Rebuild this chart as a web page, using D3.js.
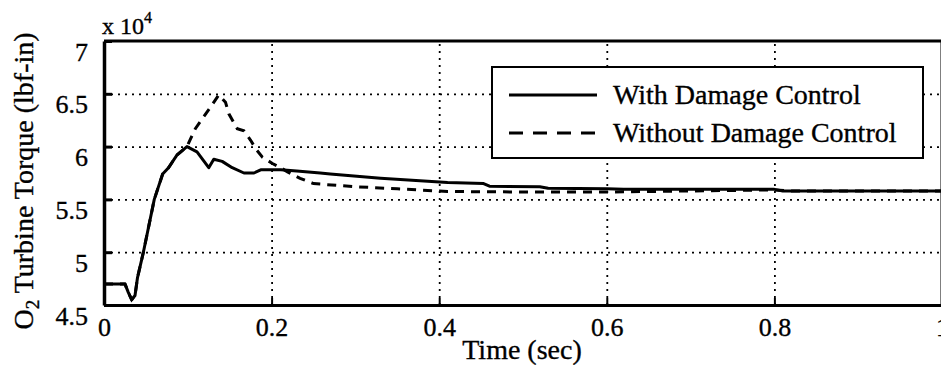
<!DOCTYPE html>
<html>
<head>
<meta charset="utf-8">
<script src="https://cdnjs.cloudflare.com/ajax/libs/d3/7.8.5/d3.min.js"></script>
<style>
    body { margin: 0; background: #fff; }
    text { font-family: "Liberation Serif", "Times New Roman", serif; fill: #000; stroke: #000; stroke-width: 0.35px; }
    .grid line { stroke: #000; stroke-width: 1.8; stroke-dasharray: 2, 5; }
    .grid path { display: none; }
</style>
</head>
<body>
<script>
// tick values and labels
var xTicks = [0, 0.2, 0.4, 0.6, 0.8, 1];
var xTickLabels = ["0", "0.2", "0.4", "0.6", "0.8", "1"];
var yTicks = [4.5, 5, 5.5, 6, 6.5, 7];
var yTickLabels = ["4.5", "5", "5.5", "6", "6.5", "7"];

var seriesNames = ["With Damage Control", "Without Damage Control"];

// with damage control (torque in units of 10^4 lbf-in)
var timeWith = [0, 0.025, 0.029, 0.033, 0.037, 0.040, 0.047, 0.060, 0.070, 0.077, 0.087, 0.099,
    0.111, 0.125, 0.131, 0.141, 0.153, 0.167, 0.179, 0.187, 0.211, 0.230, 0.258, 0.270,
    0.33, 0.41, 0.453, 0.46, 0.52, 0.53, 0.60, 0.62, 0.80, 0.81, 1.0];
var torqueWith = [4.70, 4.70, 4.62, 4.55, 4.59, 4.76, 5.00, 5.50, 5.74, 5.80, 5.92, 6.00,
    5.95, 5.80, 5.88, 5.86, 5.80, 5.75, 5.75, 5.78, 5.78, 5.77, 5.75, 5.74,
    5.70, 5.66, 5.65, 5.625, 5.62, 5.605, 5.60, 5.595, 5.595, 5.58, 5.58];

// without damage control
var timeWithout = [0, 0.025, 0.029, 0.033, 0.037, 0.040, 0.047, 0.060, 0.070, 0.077, 0.087, 0.099,
    0.109, 0.125, 0.137, 0.145, 0.149, 0.159, 0.167, 0.175, 0.181, 0.189, 0.201, 0.211,
    0.219, 0.234, 0.250, 0.266, 0.30, 0.35, 0.41, 0.50, 0.60, 0.70, 0.80, 0.82, 1.0];
var torqueWithout = [4.70, 4.70, 4.62, 4.55, 4.59, 4.76, 5.00, 5.50, 5.74, 5.80, 5.92, 6.00,
    6.17, 6.35, 6.49, 6.42, 6.31, 6.17, 6.15, 6.06, 5.98, 5.90, 5.84, 5.80,
    5.76, 5.70, 5.65, 5.64, 5.62, 5.60, 5.575, 5.57, 5.57, 5.58, 5.59, 5.58, 5.58];

// set the dimensions of the picture and the plot box
var width = 941,
    height = 370,
    plot = { left: 104, right: 942, top: 41, bottom: 305 };

// set the ranges
var x = d3.scaleLinear().domain([0, 1]).range([plot.left, plot.right]);
var y = d3.scaleLinear().domain([4.5, 7]).range([plot.bottom, plot.top]);

var svg = d3.select("body").append("svg")
    .attr("width", width)
    .attr("height", height);

svg.append("clipPath")
    .attr("id", "clip")
    .append("rect")
    .attr("x", plot.left)
    .attr("y", plot.top)
    .attr("width", plot.right - plot.left)
    .attr("height", plot.bottom - plot.top);

// dotted grid
svg.append("g")
    .attr("class", "grid")
    .attr("transform", "translate(0," + plot.bottom + ")")
    .call(d3.axisBottom(x).tickValues(xTicks.slice(1, -1)).tickSize(-(plot.bottom - plot.top)).tickFormat(""));

svg.append("g")
    .attr("class", "grid")
    .attr("transform", "translate(" + plot.left + ",0)")
    .call(d3.axisLeft(y).tickValues(yTicks.slice(1, -1)).tickSize(-(plot.right - plot.left)).tickFormat(""));

// the curves
var lineWith = d3.line()
    .x(function(d, i) { return x(timeWith[i]); })
    .y(function(d) { return y(d); });

var lineWithout = d3.line()
    .x(function(d, i) { return x(timeWithout[i]); })
    .y(function(d) { return y(d); });

svg.append("path")
    .datum(torqueWithout)
    .attr("clip-path", "url(#clip)")
    .attr("fill", "none")
    .attr("stroke", "#000")
    .attr("stroke-width", 3)
    .attr("stroke-dasharray", "9,7")
    .attr("d", lineWithout);

svg.append("path")
    .datum(torqueWith)
    .attr("clip-path", "url(#clip)")
    .attr("fill", "none")
    .attr("stroke", "#000")
    .attr("stroke-width", 3)
    .attr("stroke-linejoin", "round")
    .attr("d", lineWith);

// Add the X Axis (ticks pointing inward)
var xAxis = svg.append("g")
    .attr("transform", "translate(0," + plot.bottom + ")")
    .call(d3.axisBottom(x).tickValues(xTicks).tickSizeInner(-7).tickSizeOuter(0)
        .tickFormat(function(d, i) { return xTickLabels[i]; }));
xAxis.select(".domain").attr("stroke-width", 3);
xAxis.selectAll(".tick line").attr("stroke-width", 2);
xAxis.selectAll("text")
    .attr("y", 31)
    .attr("dy", null)
    .style("font-size", "26px");

// Add the Y Axis
var yAxis = svg.append("g")
    .attr("transform", "translate(" + plot.left + ",0)")
    .call(d3.axisLeft(y).tickValues(yTicks).tickSizeInner(-8).tickSizeOuter(0)
        .tickFormat(function(d, i) { return yTickLabels[i]; }));
yAxis.select(".domain").attr("stroke-width", 3.5);
yAxis.selectAll(".tick line").attr("stroke-width", 3);
yAxis.selectAll("text")
    .attr("x", -16)
    .attr("y", 19)
    .attr("dy", null)
    .style("font-size", "26px");

// top and right border
svg.append("line")
    .attr("x1", plot.left).attr("x2", plot.right)
    .attr("y1", plot.top).attr("y2", plot.top)
    .attr("stroke", "#000").attr("stroke-width", 3);
svg.append("line")
    .attr("x1", plot.right).attr("x2", plot.right)
    .attr("y1", plot.top).attr("y2", plot.bottom)
    .attr("stroke", "#000").attr("stroke-width", 3);

// exponent label
var expo = svg.append("text")
    .attr("x", 102)
    .attr("y", 34)
    .style("font-size", "24px");
expo.append("tspan").text("x 10");
expo.append("tspan").attr("dy", -11).style("font-size", "16px").text("4");

// axis titles
svg.append("text")
    .attr("x", 522)
    .attr("y", 359)
    .attr("text-anchor", "middle")
    .style("font-size", "28px")
    .text("Time (sec)");

var ylab = svg.append("text")
    .attr("transform", "translate(33,181) rotate(-90)")
    .attr("text-anchor", "middle")
    .style("font-size", "28px");
ylab.append("tspan").text("O");
ylab.append("tspan").attr("dy", 6).style("font-size", "19px").text("2");
ylab.append("tspan").attr("dy", -6).text(" Turbine Torque (lbf-in)");

// legend
var legend = svg.append("g");
legend.append("rect")
    .attr("x", 492).attr("y", 67)
    .attr("width", 431).attr("height", 91)
    .attr("fill", "#fff")
    .attr("stroke", "#000")
    .attr("stroke-width", 2);

seriesNames.forEach(function(name, i) {
    var ly = 95 + i * 38;
    legend.append("line")
        .attr("x1", 509).attr("x2", 597)
        .attr("y1", ly).attr("y2", ly)
        .attr("stroke", "#000")
        .attr("stroke-width", 3)
        .attr("stroke-dasharray", i === 1 ? "14,10" : null);
    legend.append("text")
        .attr("x", 613)
        .attr("y", ly + 9)
        .style("font-size", "28px")
        .text(name);
});
</script>
</body>
</html>
